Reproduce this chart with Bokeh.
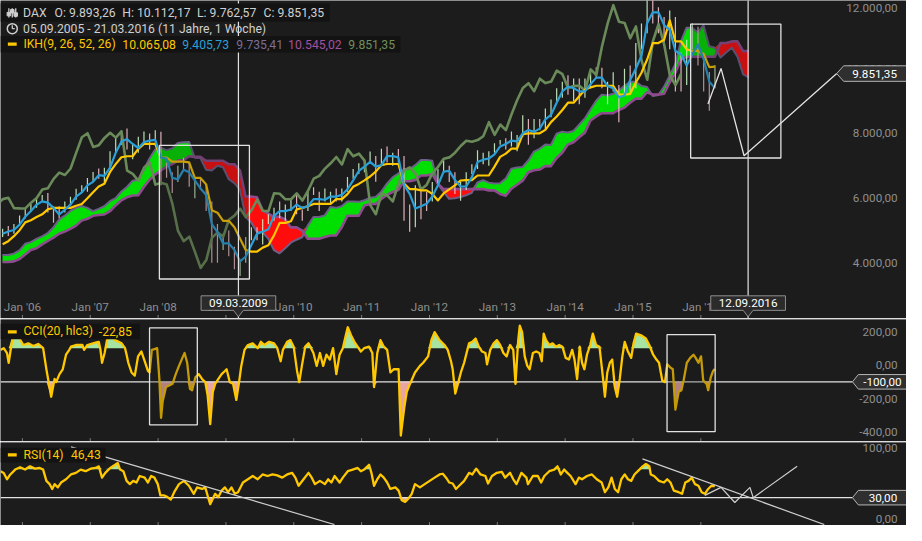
import math
from bokeh.plotting import figure
from bokeh.layouts import column
from bokeh.core.properties import value
from bokeh.embed import file_html
from bokeh.resources import INLINE

# ------------------------------------------------------------------
# DATA
# ------------------------------------------------------------------
# monthly DAX bars, first bar = Sep 2005
first_month = (2005, 9)
price_high = [5050, 5140, 5200, 5460, 5700, 5830, 6000, 6100, 6160, 5750, 5750, 5900,
              6040, 6290, 6400, 6620, 6810, 6920, 6940, 7450, 7900, 8090, 8150, 7700,
              7900, 8060, 8000, 8100, 8050, 7100, 6800, 7000, 7250, 7100, 6600, 6600,
              6400, 5900, 5200, 4900, 5000, 4500, 4100, 4800, 5100, 5100, 5350, 5500,
              5700, 5900, 5800, 6000, 6100, 5650, 6200, 6340, 6200, 6300, 6200, 6300,
              6300, 6650, 6900, 7080, 7200, 7440, 7300, 7530, 7600, 7400, 7520, 7300,
              5800, 6400, 6300, 6200, 6500, 6900, 7190, 7000, 6800, 6500, 6800, 7050,
              7480, 7400, 7450, 7700, 7800, 7850, 8060, 7950, 8560, 8450, 8450, 8450,
              8770, 9050, 9400, 9600, 9800, 9700, 9700, 9700, 9950, 10050, 10030, 9600,
              9890, 9500, 10000, 10100, 10800, 11400, 12220, 12390, 11900, 11600, 11800, 11600,
              10500, 10900, 11400, 11300, 10500, 9900, 10110]
price_low = [4800, 4830, 4900, 5150, 5370, 5590, 5700, 5880, 5560, 5240, 5380, 5560,
             5800, 5950, 6170, 6200, 6500, 6600, 6440, 6900, 7400, 7650, 7500, 7200,
             7400, 7700, 7500, 7800, 6400, 6630, 6160, 6500, 6900, 6350, 6000, 6250,
             5600, 4000, 4000, 4400, 4200, 3800, 3590, 4000, 4700, 4700, 4570, 5200,
             5300, 5380, 5300, 5600, 5500, 5300, 5600, 6100, 5600, 5900, 5800, 5900,
             5900, 6200, 6600, 6750, 6800, 7070, 6510, 7000, 7100, 7000, 7100, 5300,
             4960, 5100, 5350, 5600, 5900, 6450, 6770, 6500, 6130, 5920, 6250, 6750,
             6900, 7050, 7000, 7400, 7650, 7500, 7600, 7450, 7900, 7650, 7850, 8100,
             8100, 8500, 9000, 9100, 9200, 9000, 8900, 9100, 9400, 9700, 9400, 8900,
             9300, 8350, 9200, 9200, 9400, 10600, 11100, 11400, 11100, 10800, 10600, 9300,
             9300, 9500, 10600, 10100, 9300, 8700, 9400]
price_close = [5044, 4929, 5193, 5408, 5674, 5796, 5970, 6009, 5692, 5683, 5682, 5859,
               6004, 6269, 6309, 6597, 6789, 6715, 6917, 7409, 7884, 8007, 7584, 7638,
               7862, 8020, 7871, 8067, 6851, 6748, 6535, 6949, 7097, 6418, 6479, 6422,
               5831, 4988, 4669, 4810, 4338, 3843, 4085, 4770, 4941, 4809, 5332, 5458,
               5675, 5415, 5625, 5957, 5608, 5598, 6153, 6135, 5964, 5966, 6148, 5925,
               6229, 6601, 6688, 6914, 7077, 7272, 7041, 7514, 7294, 7376, 7159, 5784,
               5502, 6141, 6089, 5898, 6458, 6856, 6947, 6761, 6264, 6416, 6772, 6970,
               7216, 7260, 7406, 7612, 7776, 7741, 7795, 7914, 8348, 7959, 8276, 8103,
               8594, 9033, 9405, 9552, 9306, 9692, 9556, 9603, 9943, 9833, 9407, 9470,
               9474, 9326, 9980, 9805, 10694, 11401, 11966, 11454, 11413, 10945, 11308, 10259,
               9660, 10850, 11382, 10743, 9798, 9495, 9851.35]
# IKH lines (monthly, same months as the bars)
tenkan_9 = [4900, 4970, 5015, 5180, 5425, 5600, 5795, 5900, 5860, 5700, 5495, 5640,
            5800, 6045, 6175, 6395, 6505, 6710, 6690, 6945, 7400, 7745, 7825, 7675,
            7550, 7730, 7780, 7800, 7250, 7225, 6630, 6580, 6875, 6800, 6550, 6300,
            6100, 5200, 4950, 4600, 4600, 4400, 4045, 4195, 4550, 4900, 4960, 5035,
            5450, 5600, 5600, 5650, 5800, 5700, 5750, 5970, 5970, 5950, 6050, 6050,
            6100, 6275, 6550, 6840, 6975, 7120, 6975, 7020, 7300, 7300, 7260, 6410,
            6130, 5680, 5750, 5825, 6050, 6400, 6820, 6845, 6565, 6360, 6360, 6650,
            7115, 7190, 7225, 7350, 7600, 7675, 7780, 7755, 8005, 8105, 8050, 8150,
            8435, 8575, 8950, 9300, 9450, 9400, 9300, 9300, 9525, 9725, 9725, 9465,
            9395, 9120, 9175, 9650, 10000, 10400, 11410, 11745, 11745, 11350, 11200, 10550,
            10450, 10100, 10450, 10750, 10300, 9600, 9405.73]
kijun_26 = [4575, 4670, 4825, 5010, 5250, 5315, 5415, 5500, 5655, 5700, 5700, 5700,
            5700, 5765, 5820, 6000, 6185, 6360, 6445, 6810, 7050, 7265, 7295, 7295,
            7525, 7675, 7675, 7675, 7250, 7250, 7130, 7130, 7130, 7105, 6625, 6625,
            6425, 5625, 5550, 5300, 5300, 5100, 4745, 4395, 4345, 4345, 4470, 4545,
            4850, 5235, 5235, 5285, 5650, 5700, 5750, 5820, 5820, 5820, 5820, 5970,
            5970, 6125, 6350, 6440, 6550, 6670, 6820, 7020, 7055, 7055, 7055, 6450,
            6280, 6280, 6240, 6240, 6130, 5930, 6145, 6270, 6395, 6545, 6555, 6555,
            6700, 6700, 6700, 6975, 7275, 7375, 7530, 7530, 7980, 8005, 8005, 8005,
            8110, 8350, 8525, 8725, 8950, 8950, 9150, 9350, 9425, 9475, 9475, 9475,
            9475, 9200, 9200, 9225, 9575, 9875, 10285, 10795, 10795, 10895, 11495, 10845,
            10845, 10600, 10550, 10550, 10450, 10050, 10065.08]
# senkou spans: first value belongs to Mar 2005, drawn 26 weeks later
span_first_month = (2005, 3)
senkou_a = [4240, 4240, 4285, 4385, 4588, 4640,
            4738, 4820, 4920, 5095, 5338, 5458, 5605, 5700, 5758, 5700, 5598, 5670,
            5750, 5905, 5998, 6198, 6345, 6535, 6568, 6878, 7225, 7505, 7560, 7485,
            7538, 7703, 7728, 7738, 7250, 7238, 6880, 6855, 7003, 6953, 6588, 6463,
            6263, 5413, 5250, 4950, 4950, 4750, 4395, 4295, 4448, 4623, 4715, 4790,
            5150, 5418, 5418, 5468, 5725, 5700, 5750, 5895, 5895, 5885, 5935, 6010,
            6035, 6200, 6450, 6640, 6763, 6895, 6898, 7020, 7178, 7178, 7158, 6430,
            6205, 5980, 5995, 6033, 6090, 6165, 6483, 6558, 6480, 6453, 6458, 6603,
            6908, 6945, 6963, 7163, 7438, 7525, 7655, 7643, 7993, 8055, 8028, 8078,
            8273, 8463, 8738, 9013, 9200, 9175, 9225, 9325, 9475, 9600, 9600, 9470,
            9435, 9160, 9188, 9438, 9788, 10138, 10848, 11270, 11270, 11123, 11348, 10698,
            10648, 10350, 10500, 10650, 10375, 9825, 9735.41]
senkou_b = [4025, 4025, 4045, 4120, 4260, 4400,
            4450, 4570, 4675, 4780, 4900, 4965, 5050, 5150, 5305, 5360, 5455, 5480,
            5495, 5595, 5775, 5930, 6025, 6080, 6090, 6345, 6570, 6735, 6855, 6975,
            7050, 7160, 7175, 7295, 7275, 7275, 7155, 7155, 7155, 7155, 7050, 7050,
            6850, 6050, 6050, 6025, 5625, 5525, 5420, 5420, 5345, 5095, 5095, 4995,
            4745, 4745, 4745, 4795, 4845, 4845, 5100, 5455, 5455, 5455, 5770, 5820,
            5820, 5975, 6100, 6190, 6250, 6520, 6520, 6565, 6700, 6700, 6750, 6450,
            6280, 6280, 6280, 6280, 6280, 6280, 6280, 6280, 6240, 6240, 6130, 6075,
            6290, 6415, 6540, 6800, 6860, 6885, 6990, 6990, 7240, 7405, 7655, 7730,
            7885, 8025, 8400, 8525, 8625, 8625, 8625, 8725, 8800, 8950, 9075, 9075,
            9275, 9200, 9200, 9225, 9575, 9875, 10285, 10370, 10370, 10370, 10370, 10370,
            10370, 10795, 10795, 10845, 10845, 10545, 10545.02]

# CCI(20, hlc3): (weeks since 05.09.2005, value)
cci_points = [
    (0, 91), (2.5, 101), (5, 72), (6.3, 14), (9.6, 178), (11.3, 188), (14.6, 159), (17.6, 120),
    (21.4, 130), (25.2, 114), (29, 126), (32.8, 101), (35.3, -25), (39, -189), (41.6, -83),
    (42.8, -102), (45.4, -54), (47.9, -25), (50.4, 62), (52.9, 91), (54.2, 110), (58, 120),
    (63, 120), (64.3, 91), (66.8, 120), (73.1, 134), (75.6, 139), (76.9, 91), (78.1, 14),
    (80.1, 72), (81.9, 149), (84.4, 178), (88.2, 149), (93.2, 130), (95.8, 101), (97, 62),
    (98.3, 14), (100.8, -44), (103.3, -63), (105.8, 52), (108.4, 81), (110.9, 23), (113.4, -35),
    (114.7, -44), (116.4, 91), (118.4, 95), (120.5, 101), (122.2, -83), (123.5, -315),
    (124.7, -218), (127.3, -131), (129.8, -122), (132.3, -112), (134.8, -54), (137.3, -5),
    (139.9, 43), (141.6, 72), (143.6, 14), (145.7, -141), (147.4, -150), (149.9, -73),
    (152.5, -54), (155, -83), (157.5, -102), (159.3, -179), (161.3, -353), (163.3, -160),
    (165.1, -112), (167.6, -83), (170.1, -54), (172.6, -35), (173.9, -25), (176.4, -102),
    (178.9, -112), (181.4, -208), (183.5, -102), (185.2, -5), (187.7, 91), (190.3, 120),
    (194, 130), (197.8, 101), (200.3, 139), (202.9, 120), (206.6, 139), (210.4, 130),
    (212.9, 101), (215.5, 23), (217.2, 91), (220.5, 139), (223, 149), (225.5, 110),
    (228.1, -35), (229.8, -102), (231.8, -5), (234.4, 110), (236.9, 130), (240.7, 72),
    (243.2, -5), (245.7, 72), (248.2, -5), (250.7, 62), (253.3, 33), (255.8, 101),
    (258.3, -54), (260.8, 62), (263.3, 101), (265.9, 188), (267.1, 226), (269.6, 178),
    (272.2, 139), (274.7, 110), (277.2, 81), (279.7, 101), (283.5, 110), (286, 72),
    (287.3, -131), (289.8, 72), (292.3, 149), (294.8, 110), (297.4, 91), (299.9, -44),
    (302.4, -25), (306.2, -25), (307.9, -421), (310.5, -257), (312.5, -160), (315, -112),
    (318.8, -44), (322.6, -5), (325.1, 14), (328.9, 52), (331.4, 149), (333.9, 197),
    (337.7, 149), (341.5, 120), (344, 91), (346.5, 23), (347.8, -25), (349.8, -170),
    (351.5, -121), (354.1, -44), (356.6, 14), (359.1, 91), (360.4, 130), (362.9, 139),
    (365.4, 159), (367.9, 110), (370.4, 81), (373, 72), (374.2, 4), (376.7, 91), (379.3, 130),
    (381.8, 149), (384.3, 120), (386.8, 72), (389.3, 52), (391.9, 120), (394.4, 91),
    (396.1, -112), (398.2, 149), (399.4, 236), (401.2, 197), (403.2, 52), (405.2, -5),
    (407, -25), (409.5, 72), (412, 81), (414.5, 72), (416.3, 23), (417.8, 188), (419.6, 149),
    (422.1, 120), (424.6, 130), (427.1, 110), (429.7, 120), (432.2, 110), (434.7, 43),
    (437.2, 33), (439.7, 91), (441.5, 33), (443.5, -83), (445.5, 110), (447.3, 14),
    (449.1, -25), (451.1, 62), (453.6, 120), (455.6, 188), (458.1, 120), (460.7, 110),
    (463.2, -63), (464.9, -189), (466.7, -44), (468.7, 14), (470.5, 33), (472.5, -131),
    (474.3, -189), (476.3, -83), (478.3, 52), (480.1, 139), (482.6, 81), (485.1, 43),
    (486.9, 130), (488.9, 188), (492.7, 178), (496.4, 159), (499, 120), (502, 62),
    (504.5, 33), (506.5, 14), (509, -92), (511.1, -102), (512.8, 4), (515.3, -15),
    (517.1, -25), (519.1, -266), (521.6, -160), (523.7, -150), (525.4, -92), (527.9, 14),
    (530.5, 43), (533, 62), (534.7, 43), (536.8, 14), (538.8, 52), (540.5, -92),
    (543.1, -112), (544.3, -150), (546.3, -73), (548.1, -35), (549.4, -22.85)]

# RSI(14): (weeks since 05.09.2005, value)
rsi_points = [
    (0, 67.4), (2.5, 65), (5, 56), (7.6, 62.8), (11.3, 69.7), (15.1, 73), (18.9, 69.7),
    (22.7, 74.3), (26.5, 71), (30.2, 72), (32.8, 69.7), (35.3, 53.7), (37.8, 49.1),
    (39.8, 42.3), (41.6, 49.1), (44.1, 44.5), (46.6, 51.4), (50.4, 56), (54.2, 62.8),
    (58, 65.1), (61.7, 69.7), (65.5, 67.4), (69.3, 71), (73.1, 72), (75.6, 74.3), (78.1, 58.3),
    (80.6, 65.1), (84.4, 72), (88.2, 76.6), (90.2, 78.9), (92, 69.7), (94.5, 67.4), (97, 53.7),
    (99.5, 49.1), (102.1, 53.7), (104.6, 51.4), (107.1, 60.6), (110.9, 58.3), (113.4, 51.4),
    (115.9, 60.6), (118.4, 58.3), (121, 49.1), (123, 33.1), (126, 33.1), (128.5, 30.8),
    (131, 27.2), (133.6, 37.7), (137.3, 49.1), (141.1, 53.7), (144.9, 46.8), (148.7, 35.4),
    (151.2, 44.5), (155, 42.3), (157.5, 44.5), (160, 28.5), (161.3, 20.8), (163.3, 28.5),
    (165.1, 35.4), (167.6, 30.8), (170.1, 40), (172.6, 44.5), (175.1, 37.7), (177.7, 44.5),
    (180.2, 35.4), (182.7, 37.7), (186.5, 51.4), (190.3, 56), (194, 60.6), (197.8, 56),
    (201.6, 62.8), (205.4, 60.6), (209.2, 62.8), (212.9, 61.5), (216.7, 58.3), (220.5, 62.8),
    (224.3, 65.1), (226.8, 58.3), (229.3, 46.8), (233.1, 56), (236.9, 65.1), (239.4, 58.3),
    (241.9, 49.1), (245.7, 53.7), (249.5, 49.1), (252, 56), (254.5, 51.4), (257, 60.6),
    (260.8, 51.4), (263.3, 58.3), (267.1, 67.4), (270.9, 69.7), (274.7, 72), (277.2, 67.4),
    (279.7, 69.7), (283.5, 76.6), (285.3, 65.1), (287.3, 46.8), (289.8, 56), (292.3, 62.8),
    (294.8, 58.3), (297.4, 51.4), (299.9, 42.3), (303.7, 44.5), (306.2, 40), (308.7, 26.3),
    (311.2, 24), (313.7, 28.5), (316.3, 35.4), (318.8, 49.1), (322.6, 44.5), (326.3, 49.1),
    (330.1, 53.7), (333.9, 58.3), (337.7, 62.8), (340.2, 63.8), (342.7, 58.3), (345.2, 51.4),
    (347.8, 50), (350.3, 42.3), (352.8, 46.8), (356.6, 53.7), (360.4, 65.1), (362.9, 62.8),
    (365.9, 71), (369.2, 62.8), (373, 60.6), (375, 50), (378, 60.6), (381.8, 65.1),
    (385.6, 66.5), (388.1, 58.3), (391.9, 65.1), (394.4, 56), (396.9, 49.1), (400.7, 65.1),
    (404.5, 58.3), (405.7, 49.1), (409.5, 60.6), (413.3, 60.6), (415.8, 51.4), (418.3, 60.6),
    (422.1, 67.4), (425.9, 69.7), (428.4, 74.3), (431, 62.8), (433.5, 69.7), (436, 65.1),
    (438.5, 60.6), (442.3, 49.1), (444.8, 58.3), (447.3, 56), (451.1, 60.6), (454.9, 62.8),
    (458.6, 56), (462.4, 51.4), (464.9, 37.7), (467.5, 44.5), (470, 58.3), (472.5, 42.3),
    (475, 37.7), (477.5, 56), (480.1, 62.8), (482.6, 56), (485.1, 53.7), (487.6, 62.8),
    (491.4, 69.7), (493.9, 74.3), (496.4, 77.5), (499, 74.3), (500.2, 62.8), (502.7, 60.6),
    (506.5, 53.7), (510.3, 51.4), (512.8, 56), (515.3, 51.4), (517.9, 40), (521.6, 37.7),
    (524.2, 35.4), (526.7, 51.4), (529.2, 53.7), (531.7, 58.3), (534.2, 49.1), (536.8, 46.8),
    (539.3, 37.7), (541.8, 35.4), (544.3, 42.3), (546.8, 46.8), (549.4, 46.43)]

year_ticks = [2006, 2007, 2008, 2009, 2010, 2011, 2012, 2013, 2014, 2015, 2016]
year_labels = ["Jan '06", "Jan '07", "Jan '08", "Jan '09", "Jan '10", "Jan '11",
               "Jan '12", "Jan '13", "Jan '14", "Jan '15", "Jan '16"]
price_ticks = [4000, 6000, 8000, 10000, 12000]
cci_ticks = [-400, -200, 0, 200]
rsi_ticks = [0, 100]
cci_level = -100
rsi_level = 30
last_close = 9851.35

header_line1 = ["DAX", "O: 9.893,26", "H: 10.112,17", "L: 9.762,57", "C: 9.851,35"]
header_line2 = "05.09.2005 - 21.03.2016 (11 Jahre, 1 Woche)"
ikh_title = "IKH(9, 26, 52, 26)"
ikh_values = ["10.065,08", "9.405,73", "9.735,41", "10.545,02", "9.851,35"]
cci_title, cci_last = "CCI(20, hlc3)", "-22,85"
rsi_title, rsi_last = "RSI(14)", "46,43"

# analyst drawings (decimal year, value)
price_boxes = [(2008.019, 2009.346, 3500, 7631), (2015.85, 2017.18, 7241, 11381)]
price_zig_t = [2016.105, 2016.298, 2016.637, 2018.003]
price_zig_v = [8909, 10010, 7310, last_close]
marker_dates = [("09.03.2009", 2009.184), ("12.09.2016", 2016.697)]
cci_boxes = [(2007.874, 2008.578, -357, 222.6), (2015.502, 2016.211, -397.7, 182)]
rsi_trends = [((2006.716, 101.8), (2010.60, -8.0)), ((2015.14, 84.9), (2017.82, -8.0))]
rsi_zig_t = [2016.058, 2016.298, 2016.501, 2016.724, 2016.772, 2017.42]
rsi_zig_v = [33.2, 44.5, 23.1, 44.5, 30.0, 74.3]

# ------------------------------------------------------------------
# STYLE / GEOMETRY
# ------------------------------------------------------------------
BG = "#1c1c1c"
SEP = "#7d7d7d"
AXIS_TXT = "#8e8e8e"
WHITE_LINE = "#e2e2e2"
YELLOW = "#ffc800"
BLUE = "#2b9fd8"
CHIKOU = "#6a8a59"
SPAN_A_COL = "#6c5f88"
SPAN_B_COL = "#8e4b8e"
CLOUD_GREEN = "#00e000"
CLOUD_RED = "#ff0d0d"
UP, DOWN = "#cdf3c6", "#f5c2cb"
FONT = value("Roboto")
FS = "11.7px"
FS_HDR = "12.2px"
SHIFT = 26 * 7 / 365.25
T0 = 2005 + 247 / 365.0       # 05.09.2005

# layout of the original (922 x 541 px) scaled into 906 x 525
REF_W, REF_H = 922.0, 541.0
W, H = 906, 525
SY = H / REF_H
X_JAN06, PX_YEAR = 22.3, 69.04


def tx(px):
    return 2006 + (px - X_JAN06) / PX_YEAR


def pxt(t):
    return X_JAN06 + (t - 2006) * PX_YEAR


def yp(py):
    return 8000 + (137 - py) * 30


def pyp(v):
    return 137 - (v - 8000) / 30


def yc(py):
    return (375.7 - py) / 0.1725


def pyc(v):
    return 375.7 - v * 0.1725


def yr(py):
    return 30 + (512.3 - py) / 0.7286


def pyr(v):
    return 512.3 - (v - 30) * 0.7286


def de(v):
    s = f"{v:,.2f}"
    return s.replace(",", "X").replace(".", ",").replace("X", ".")


def make_fig(height, top_px, bottom_px, fy, border_top):
    # top_px / bottom_px: frame edges in page pixels of this layout
    p = figure(width=W, height=height, title=None,
               x_range=(tx(0), tx(REF_W)),
               y_range=(fy(bottom_px / SY), fy(top_px / SY)),
               x_axis_type=None, y_axis_type=None,
               toolbar_location=None, output_backend="svg",
               min_border=0, min_border_left=0, min_border_right=0,
               min_border_bottom=0, min_border_top=border_top,
               background_fill_color=BG,
               border_fill_color=SEP if border_top else BG,
               outline_line_color=None)
    return p


def txt(p, xs, ys, texts, color, size=FS, align="left"):
    p.text(x=xs, y=ys, text=texts, text_font=FONT, text_font_size=size,
           text_color=color, text_align=align, text_baseline="middle")


def tag_right(p, fy, fpy, v, text, tip_px, box_px, half_h, center_px):
    c = fpy(v)
    xs = [tx(tip_px), tx(box_px), tx(925), tx(925), tx(box_px)]
    ys = [v, fy(c - half_h), fy(c - half_h), fy(c + half_h), fy(c + half_h)]
    p.patch(xs, ys, fill_color="#2f2f2f", line_color="#b5b5b5", line_width=1)
    txt(p, [tx(center_px)], [v], [text], "#ffffff", align="center")


def legend_dash(p, fy, py):
    p.segment(x0=[tx(7.5)], x1=[tx(16.5)], y0=[fy(py)], y1=[fy(py)],
              line_color=YELLOW, line_width=3.3)


# ------------------------------------------------------------------
# PRICE PANEL
# ------------------------------------------------------------------
p1 = make_fig(318, 0, 318, yp, 0)

t_month = [first_month[0] + (first_month[1] - 1 + i + 0.5) / 12 for i in range(len(price_close))]
t_span = [span_first_month[0] + (span_first_month[1] - 1 + j + 0.5) / 12 + SHIFT
          for j in range(len(senkou_a))]
span_top = [max(a, b) for a, b in zip(senkou_a, senkou_b)]

p1.varea(x=t_span, y1=senkou_b, y2=span_top, fill_color=CLOUD_GREEN)
p1.varea(x=t_span, y1=senkou_a, y2=span_top, fill_color=CLOUD_RED)
p1.line(t_span, senkou_a, line_color=SPAN_A_COL, line_width=2, line_join="round")
p1.line(t_span, senkou_b, line_color=SPAN_B_COL, line_width=2.6, line_join="round")

bar_cols = [UP if i == 0 or c >= price_close[i - 1] else DOWN for i, c in enumerate(price_close)]
p1.segment(x0=t_month, x1=t_month, y0=price_low, y1=price_high, line_color=bar_cols,
           line_width=1.2, line_alpha=0.9)

p1.line([t - SHIFT for t in t_month], price_close, line_color=CHIKOU, line_width=2.6,
        line_join="round")
p1.line(t_month, kijun_26, line_color=YELLOW, line_width=2.2, line_join="round")
p1.line(t_month, tenkan_9, line_color=BLUE, line_width=2.2, line_join="round")

for (a, b, lo, hi) in price_boxes:
    p1.quad(left=[a], right=[b], bottom=[lo], top=[hi], fill_color=BG, fill_alpha=0.24,
            line_color=WHITE_LINE, line_width=1.3)
p1.line(price_zig_t, price_zig_v, line_color=WHITE_LINE, line_width=1.3)
for _, t in marker_dates:
    p1.segment(x0=[t], x1=[t], y0=[yp(328)], y1=[yp(-2)], line_color=WHITE_LINE, line_width=1.2)

n = len(year_ticks)
p1.segment(x0=year_ticks, x1=year_ticks, y0=[yp(329)] * n, y1=[yp(324)] * n,
           line_color=SEP, line_width=1)
txt(p1, year_ticks, [yp(315.7)] * n, year_labels, AXIS_TXT, align="center")
# price scale labels (the top one nudged down so it stays readable)
price_label_y = [t if t < 12000 else yp(7.5) for t in price_ticks]
txt(p1, [tx(913)] * len(price_ticks), price_label_y, [de(v) for v in price_ticks], AXIS_TXT,
    align="right")

# date tags on the time axis
for label, t in marker_dates:
    c = pxt(t)
    xs = [tx(c - 38), tx(c + 38), tx(c + 38), tx(c + 5), t, tx(c - 5), tx(c - 38)]
    ys = [yp(304.3), yp(304.3), yp(319.3), yp(319.3), yp(326), yp(319.3), yp(319.3)]
    p1.patch(xs, ys, fill_color="#2b2b2b", line_color="#8f8f8f", line_width=1)
    txt(p1, [t], [yp(311.8)], [label], "#ffffff", align="center")

tag_right(p1, yp, pyp, last_close, de(last_close), 851, 858, 8, 889.5)

# header
p1.quad(left=[tx(0)], right=[tx(335)], bottom=[yp(22)], top=[yp(3)], fill_color="#131313",
        line_color=None)
p1.quad(left=[tx(0)], right=[tx(407)], bottom=[yp(53.5)], top=[yp(36.5)], fill_color="#131313",
        line_color=None)
HDR = "#cfcfcf"
for xpx in (8.5, 12, 15.5):
    p1.segment(x0=[tx(xpx)], x1=[tx(xpx)], y0=[yp(17.5)], y1=[yp(8)], line_color=HDR,
               line_width=1.3)
p1.scatter(x=[tx(8.5), tx(12), tx(15.5)], y=[yp(14), yp(11), yp(14.5)], marker="square",
           size=3.5, fill_color=HDR, line_color=HDR)
txt(p1, [tx(23), tx(55), tx(124), tx(200), tx(267.7)], [yp(12.7)] * 5, header_line1, HDR,
    size=FS_HDR)
p1.scatter(x=[tx(12)], y=[yp(29)], marker="circle", size=10, fill_color=None, line_color=HDR,
           line_width=1.5)
p1.segment(x0=[tx(12), tx(12)], x1=[tx(12), tx(14.5)], y0=[yp(29), yp(29)],
           y1=[yp(25.5), yp(29)], line_color=HDR, line_width=1.3)
txt(p1, [tx(23)], [yp(29)], [header_line2], HDR, size=FS_HDR)
legend_dash(p1, yp, 45)
ikh_cols = [YELLOW, BLUE, "#7a6f96", "#a4509f", "#6e8f5c"]
txt(p1, [tx(23.3)], [yp(45)], [ikh_title], YELLOW, size=FS_HDR)
for xpx, s, col in zip([124, 185, 240, 292.7, 354], ikh_values, ikh_cols):
    txt(p1, [tx(xpx)], [yp(45)], [s], col, size=FS_HDR)

# ------------------------------------------------------------------
# CCI PANEL
# ------------------------------------------------------------------
p2 = make_fig(123, 319, 441, yc, 1)
t_cci = [T0 + w * 7 / 365.25 for w, _ in cci_points]
v_cci = [v for _, v in cci_points]
m = len(v_cci)
p2.varea(x=t_cci, y1=[100] * m, y2=[max(v, 100) for v in v_cci], fill_color="#a7e4a2")
p2.varea(x=t_cci, y1=[min(v, cci_level) for v in v_cci], y2=[cci_level] * m,
         fill_color="#e9a4a4")
p2.segment(x0=[tx(0)], x1=[tx(867)], y0=[cci_level], y1=[cci_level], line_color=WHITE_LINE,
           line_width=1.3)
p2.line(t_cci, v_cci, line_color=YELLOW, line_width=2.3, line_join="round")
for (a, b, lo, hi) in cci_boxes:
    p2.quad(left=[a], right=[b], bottom=[lo], top=[hi], fill_color=BG, fill_alpha=0.26,
            line_color=WHITE_LINE, line_width=1.3)
p2.segment(x0=year_ticks, x1=year_ticks, y0=[yc(456)] * n, y1=[yc(451)] * n,
           line_color=SEP, line_width=1)
txt(p2, [tx(913)] * len(cci_ticks), cci_ticks, [de(v) for v in cci_ticks], AXIS_TXT,
    align="right")
tag_right(p2, yc, pyc, cci_level, de(cci_level), 867, 873, 7.5, 897.5)
p2.quad(left=[tx(0)], right=[tx(142)], bottom=[yc(349)], top=[yc(333)], fill_color="#131313",
        line_color=None)
legend_dash(p2, yc, 341.5)
txt(p2, [tx(23.3)], [yc(341)], [cci_title], YELLOW, size=FS_HDR)
txt(p2, [tx(100)], [yc(341)], [cci_last], YELLOW, size=FS_HDR)

# ------------------------------------------------------------------
# RSI PANEL
# ------------------------------------------------------------------
p3 = make_fig(84, 442, 525, yr, 1)
t_rsi = [T0 + w * 7 / 365.25 for w, _ in rsi_points]
v_rsi = [v for _, v in rsi_points]
k = len(v_rsi)
p3.varea(x=t_rsi, y1=[70] * k, y2=[max(v, 70) for v in v_rsi], fill_color="#a7e4a2")
p3.varea(x=t_rsi, y1=[min(v, rsi_level) for v in v_rsi], y2=[rsi_level] * k,
         fill_color="#e9a4a4")
p3.segment(x0=[tx(0)], x1=[tx(867)], y0=[rsi_level], y1=[rsi_level], line_color=WHITE_LINE,
           line_width=1.3)
p3.line(t_rsi, v_rsi, line_color=YELLOW, line_width=2.3, line_join="round")
for (a, b) in rsi_trends:
    p3.line([a[0], b[0]], [a[1], b[1]], line_color="#cfcfcf", line_width=1.2)
p3.line(rsi_zig_t, rsi_zig_v, line_color="#cfcfcf", line_width=1.2)
p3.segment(x0=year_ticks, x1=year_ticks, y0=[yr(542)] * n, y1=[yr(537.5)] * n,
           line_color=SEP, line_width=1)
txt(p3, [tx(913)] * len(rsi_ticks), rsi_ticks, [de(v) for v in rsi_ticks], AXIS_TXT,
    align="right")
tag_right(p3, yr, pyr, rsi_level, de(rsi_level), 867, 873, 7.5, 898)
p3.quad(left=[tx(0)], right=[tx(107)], bottom=[yr(476)], top=[yr(461)], fill_color="#131313",
        line_color=None)
legend_dash(p3, yr, 468.3)
txt(p3, [tx(23.3)], [yr(468.3)], [rsi_title], YELLOW, size=FS_HDR)
txt(p3, [tx(71.7)], [yr(468.3)], [rsi_last], YELLOW, size=FS_HDR)

layout = column(p1, p2, p3, spacing=0)
open("out.html", "w").write(file_html(layout, INLINE))
